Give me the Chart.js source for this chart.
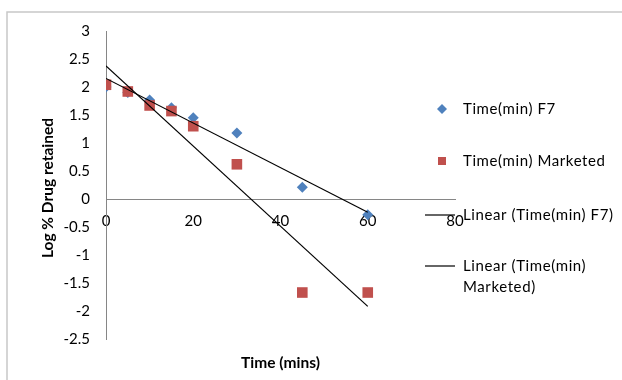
<!DOCTYPE html>
<html>
<head>
<meta charset="utf-8">
<script src="https://cdn.jsdelivr.net/npm/chart.js@4/dist/chart.umd.min.js"></script>
<style>
  html, body { margin: 0; padding: 0; background: #fff; }
  #wrap { width: 622px; height: 380px; position: relative; }
</style>
</head>
<body>
<div id="wrap"><canvas id="miGrafica"></canvas></div>
<script>
// datos
const tiempos = [0, 5, 10, 15, 20, 30, 45, 60];
const logF7 = [2.0, 1.9, 1.77, 1.63, 1.45, 1.18, 0.21, -0.28];
const logMarketed = [2.04, 1.92, 1.67, 1.57, 1.30, 0.62, -1.67, -1.67];
const etiquetas = ['Time(min) F7', 'Time(min) Marketed', 'Linear (Time(min) F7)', ['Linear (Time(min)', 'Marketed)']];

const fuente = 'Lato, "Open Sans", sans-serif';
const azul = '#4F81BD';
const rojo = '#C0504D';

function puntos(ys) {
    return tiempos.map((t, i) => ({ x: t, y: ys[i] }));
}

// recta de minimos cuadrados, como la linea de tendencia de Excel
function tendencia(ys) {
    let n = tiempos.length;
    let mx = tiempos.reduce((a, b) => a + b, 0) / n;
    let my = ys.reduce((a, b) => a + b, 0) / n;
    let sxy = 0, sxx = 0;
    tiempos.forEach((t, i) => { sxy += (t - mx) * (ys[i] - my); sxx += (t - mx) * (t - mx); });
    let m = sxy / sxx;
    let b = my - m * mx;
    let x0 = Math.min(...tiempos), x1 = Math.max(...tiempos);
    return [{ x: x0, y: b + m * x0 }, { x: x1, y: b + m * x1 }];
}

// leyenda, titulos y borde dibujados a mano
const extras = {
    id: 'extras',
    afterDraw(chart) {
        const ctx = chart.ctx;
        const area = chart.chartArea;
        ctx.save();
        // borde del area del grafico
        ctx.strokeStyle = '#c8c8c8';
        ctx.lineWidth = 1.5;
        ctx.beginPath();
        ctx.moveTo(7, 380);
        ctx.lineTo(7, 12);
        ctx.lineTo(622, 12);
        ctx.stroke();

        // titulos de ejes
        ctx.fillStyle = '#000';
        ctx.font = 'bold 15.5px ' + fuente;
        ctx.textAlign = 'center';
        ctx.textBaseline = 'middle';
        ctx.fillText('Time (mins)', (area.left + area.right) / 2, 363);
        ctx.save();
        ctx.translate(48, 188);
        ctx.rotate(-Math.PI / 2);
        ctx.fillText('Log % Drug retained', 0, 0);
        ctx.restore();

        // leyenda
        const lx = 442, tx = 463;
        ctx.fillStyle = azul;
        ctx.beginPath();
        ctx.moveTo(lx, 104); ctx.lineTo(lx + 5, 109); ctx.lineTo(lx, 114); ctx.lineTo(lx - 5, 109);
        ctx.closePath();
        ctx.fill();
        ctx.fillStyle = rojo;
        ctx.fillRect(lx - 4, 157, 8, 8);
        ctx.strokeStyle = '#000';
        ctx.lineWidth = 1.2;
        [215, 266].forEach(y => {
            ctx.beginPath(); ctx.moveTo(425, y); ctx.lineTo(455, y); ctx.stroke();
        });
        ctx.fillStyle = '#000';
        ctx.font = '15px ' + fuente;
        ctx.letterSpacing = '0.6px';
        ctx.textAlign = 'left';
        ctx.fillText(etiquetas[0], tx, 109);
        ctx.fillText(etiquetas[1], tx, 161);
        ctx.fillText(etiquetas[2], tx, 215);
        ctx.fillText(etiquetas[3][0], tx, 266);
        ctx.fillText(etiquetas[3][1], tx, 287);
        ctx.restore();
    }
};

function formato(valor) {
    return String(Math.round(valor * 10) / 10);
}

let ctx = document.getElementById('miGrafica').getContext('2d');
let miGrafica = new Chart(ctx, {
    type: 'scatter',
    data: {
        datasets: [
            {
                label: 'Linear (Time(min) F7)',
                type: 'line',
                data: tendencia(logF7),
                borderColor: '#000',
                borderWidth: 1.2,
                pointRadius: 0,
                fill: false,
                order: 0
            },
            {
                label: 'Linear (Time(min) Marketed)',
                type: 'line',
                data: tendencia(logMarketed),
                borderColor: '#000',
                borderWidth: 1.2,
                pointRadius: 0,
                fill: false,
                order: 0
            },
            {
                label: 'Time(min) Marketed',
                data: puntos(logMarketed),
                pointStyle: 'rect',
                pointRadius: 7.5,
                backgroundColor: rojo,
                borderColor: rojo,
                borderWidth: 0,
                order: 1
            },
            {
                label: 'Time(min) F7',
                data: puntos(logF7),
                pointStyle: 'rectRot',
                pointRadius: 5.5,
                backgroundColor: azul,
                borderColor: azul,
                borderWidth: 0,
                order: 2
            }
        ]
    },
    options: {
        responsive: true,
        maintainAspectRatio: false,
        animation: false,
        layout: { padding: { left: 0, right: 167, top: 31, bottom: 41 } },
        plugins: {
            legend: { display: false },
            tooltip: { enabled: false }
        },
        scales: {
            x: {
                type: 'linear',
                position: { y: 0 },
                min: 0,
                max: 80,
                ticks: { stepSize: 20, padding: 13, color: '#000', font: { family: fuente, size: 15 }, callback: formato },
                grid: { display: true, drawOnChartArea: false, drawTicks: false },
                border: { color: '#868686', width: 1 }
            },
            y: {
                min: -2.5,
                max: 3,
                ticks: { stepSize: 0.5, padding: 16, color: '#000', font: { family: fuente, size: 15 }, callback: formato },
                grid: { display: true, drawOnChartArea: false, drawTicks: false },
                border: { color: '#868686', width: 1 },
                afterFit(scale) { scale.width = 106; }
            }
        }
    },
    plugins: [extras]
});
</script>
</body>
</html>
